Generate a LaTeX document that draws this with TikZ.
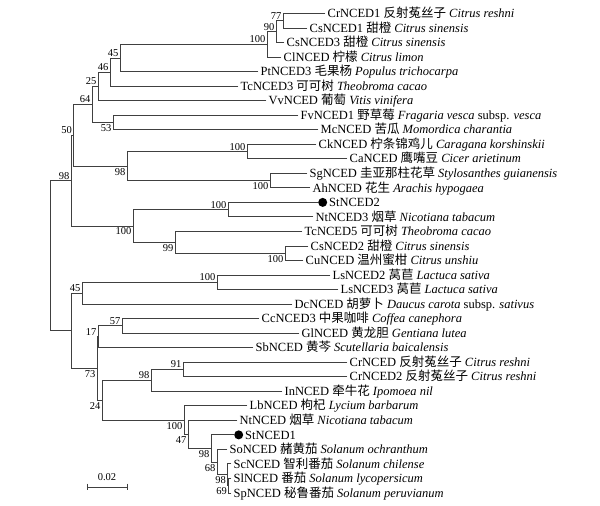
\documentclass[tikz,border=0pt]{standalone}
\usepackage{fontspec}
\setmainfont{Liberation Serif}
\newfontfamily\cjk{Noto Sans CJK SC}
\usetikzlibrary{calc}
\newcommand\leafat[3]{%
  \coordinate (t#1) at (#2,{13.5+(#1-1)*14.53});
  \node[leaf] (l#1) at (t#1) {#3};}
\newcommand\dotleafat[3]{%
  \coordinate (t#1) at (#2,{13.5+(#1-1)*14.53});
  \node[dotn] (d#1) at (t#1) {};
  \node[leaf,inner xsep=1.5pt] (l#1) at (d#1.east) {#3};}
\newcommand\inode[4]{%
  \path ($(#3)!.5!(#4)$) coordinate (#1m);
  \coordinate (#1) at (#2,0 |- #1m);
  \draw[br] (#1) |- (#3);
  \draw[br] (#1) |- (#4);}
\newcommand\bsA[2]{\node[bs,anchor=south east] (#1lab) at ([shift={(-1.5pt,1.2pt)}]#1) {#2};}
\newcommand\bsB[2]{\node[bs,anchor=north east] (#1lab) at ([shift={(-1.5pt,-1.8pt)}]#1) {#2};}
\begin{document}
\begin{tikzpicture}[x=1pt,y=-1pt,
  br/.style={line width=0.9pt,draw=black!75,line cap=rect},
  leaf/.style={anchor=west,inner xsep=2.5pt,inner ysep=0pt,text height=8.3pt,text depth=0pt,font=\fontsize{12.5pt}{15pt}\selectfont},
  bs/.style={inner sep=0pt,font=\fontsize{10.5pt}{12pt}\selectfont},
  dotn/.style={circle,fill=black,inner sep=0pt,minimum size=9pt,anchor=west}]
\useasboundingbox (0,0) rectangle (600,506);
% leaves
\leafat{1}{325}{CrNCED1 {\cjk 反射菟丝子} \textit{Citrus reshni}}
\leafat{2}{307}{CsNCED1 {\cjk 甜橙} \textit{Citrus sinensis}}
\leafat{3}{284}{CsNCED3 {\cjk 甜橙} \textit{Citrus sinensis}}
\leafat{4}{281}{ClNCED {\cjk 柠檬} \textit{Citrus limon}}
\leafat{5}{258}{PtNCED3 {\cjk 毛果杨} \textit{Populus trichocarpa}}
\leafat{6}{238}{TcNCED3 {\cjk 可可树} \textit{Theobroma cacao}}
\leafat{7}{266}{VvNCED {\cjk 葡萄} \textit{Vitis vinifera}}
\leafat{8}{298}{FvNCED1 {\cjk 野草莓} \textit{Fragaria vesca} subsp. \textit{vesca}}
\leafat{9}{318}{McNCED {\cjk 苦瓜} \textit{Momordica charantia}}
\leafat{10}{316}{CkNCED {\cjk 柠条锦鸡儿} \textit{Caragana korshinskii}}
\leafat{11}{347}{CaNCED {\cjk 鹰嘴豆} \textit{Cicer arietinum}}
\leafat{12}{307}{SgNCED {\cjk 圭亚那柱花草} \textit{Stylosanthes guianensis}}
\leafat{13}{310}{AhNCED {\cjk 花生} \textit{Arachis hypogaea}}
\dotleafat{14}{318}{StNCED2}
\leafat{15}{313}{NtNCED3 {\cjk 烟草} \textit{Nicotiana tabacum}}
\leafat{16}{302}{TcNCED5 {\cjk 可可树} \textit{Theobroma cacao}}
\leafat{17}{308}{CsNCED2 {\cjk 甜橙} \textit{Citrus sinensis}}
\leafat{18}{303}{CuNCED {\cjk 温州蜜柑} \textit{Citrus unshiu}}
\leafat{19}{330}{LsNCED2 {\cjk 莴苣} \textit{Lactuca sativa}}
\leafat{20}{338}{LsNCED3 {\cjk 莴苣} \textit{Lactuca sativa}}
\leafat{21}{292}{DcNCED {\cjk 胡萝卜} \textit{Daucus carota} subsp. \textit{sativus}}
\leafat{22}{259}{CcNCED3 {\cjk 中果咖啡} \textit{Coffea canephora}}
\leafat{23}{299}{GlNCED {\cjk 黄龙胆} \textit{Gentiana lutea}}
\leafat{24}{253}{SbNCED {\cjk 黄芩} \textit{Scutellaria baicalensis}}
\leafat{25}{347}{CrNCED {\cjk 反射菟丝子} \textit{Citrus reshni}}
\leafat{26}{347}{CrNCED2 {\cjk 反射菟丝子} \textit{Citrus reshni}}
\leafat{27}{282}{InNCED {\cjk 牵牛花} \textit{Ipomoea nil}}
\leafat{28}{247}{LbNCED {\cjk 枸杞} \textit{Lycium barbarum}}
\leafat{29}{237}{NtNCED {\cjk 烟草} \textit{Nicotiana tabacum}}
\dotleafat{30}{234}{StNCED1}
\leafat{31}{227}{SoNCED {\cjk 赭黄茄} \textit{Solanum ochranthum}}
\leafat{32}{231}{ScNCED {\cjk 智利番茄} \textit{Solanum chilense}}
\leafat{33}{231}{SlNCED {\cjk 番茄} \textit{Solanum lycopersicum}}
\leafat{34}{231}{SpNCED {\cjk 秘鲁番茄} \textit{Solanum peruvianum}}
% internal nodes
\inode{n77}{283}{t1}{t2}
\inode{n90}{276}{n77}{t3}
\inode{n100a}{267}{n90}{t4}
\inode{n45a}{120}{n100a}{t5}
\inode{n46}{110}{n45a}{t6}
\inode{n25}{98}{n46}{t7}
\inode{n53}{113}{t8}{t9}
\inode{n64}{92}{n25}{n53}
\inode{n100b}{247}{t10}{t11}
\inode{n100c}{270}{t12}{t13}
\inode{n98a}{127}{n100b}{n100c}
\inode{n50}{73.5}{n64}{n98a}
\inode{n100d}{228}{t14}{t15}
\inode{n100e}{285}{t17}{t18}
\inode{n99}{175}{t16}{n100e}
\inode{n100f}{133}{n100d}{n99}
\inode{n98b}{71}{n50}{n100f}
\inode{n100g}{217}{t19}{t20}
\inode{n45b}{82}{n100g}{t21}
\inode{n57}{122}{t22}{t23}
\inode{n17}{98}{n57}{t24}
\inode{n91}{183}{t25}{t26}
\inode{n98c}{151}{n91}{t27}
\inode{n69}{228.5}{t33}{t34}
\inode{n98d}{227.5}{t32}{n69}
\inode{n68}{217}{t31}{n98d}
\inode{n98e}{211}{t30}{n68}
\inode{n47}{188}{t29}{n98e}
\inode{n100h}{184}{t28}{n47}
\inode{n24}{102}{n98c}{n100h}
\inode{n73}{97}{n17}{n24}
\inode{nX}{71}{n45b}{n73}
\inode{root}{50}{n98b}{nX}
% bootstrap values
\bsA{n77}{77}\bsA{n90}{90}\bsA{n100a}{100}\bsA{n45a}{45}\bsA{n46}{46}
\bsA{n25}{25}\bsA{n64}{64}\bsB{n53}{53}\bsA{n50}{50}\bsB{n98a}{98}
\bsA{n100b}{100}\bsB{n100c}{100}\bsA{n98b}{98}\bsA{n100d}{100}
\bsB{n100f}{100}\bsB{n99}{99}\bsB{n100e}{100}\bsA{n100g}{100}
\bsA{n45b}{45}\bsA{n57}{57}\bsA{n17}{17}\bsB{n73}{73}\bsB{n24}{24}
\bsA{n98c}{98}\bsA{n91}{91}\bsB{n100h}{100}\bsB{n47}{47}\bsB{n98e}{98}
\bsB{n68}{68}\bsB{n98d}{98}\bsB{n69}{69}
% scale bar
\coordinate (sbL) at (87,487);
\coordinate (sbR) at (127,487);
\draw[br,line cap=butt] (sbL) -- (sbR);
\draw[br,line cap=butt] ([yshift=3.4pt]sbL) -- ([yshift=-3.4pt]sbL);
\draw[br,line cap=butt] ([yshift=3.4pt]sbR) -- ([yshift=-3.4pt]sbR);
\node[bs,anchor=south,yshift=6pt] (sblab) at ($(sbL)!.5!(sbR)$) {0.02};
\end{tikzpicture}
\end{document}
